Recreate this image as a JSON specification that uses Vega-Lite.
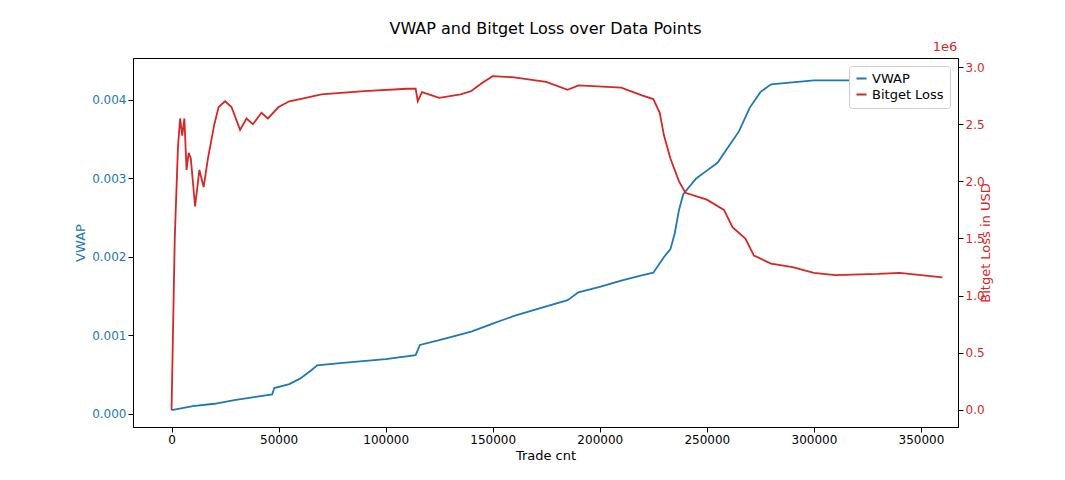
{
  "$schema": "https://vega.github.io/schema/vega-lite/v6.json",
  "width": 825,
  "height": 369,
  "autosize": {"type": "none"},
  "padding": {"left": 133, "top": 58, "right": 107, "bottom": 53},
  "background": "white",
  "title": {"text": "VWAP and Bitget Loss over Data Points", "fontSize": 16, "fontWeight": "normal", "font": "DejaVu Sans", "offset": 4},
  "datasets": {
    "vwap": [
      {"t": 0, "v": 0.00005}, {"t": 10000, "v": 0.0001}, {"t": 20000, "v": 0.00013}, {"t": 30000, "v": 0.00018},
      {"t": 40000, "v": 0.00022}, {"t": 47000, "v": 0.00025}, {"t": 48000, "v": 0.00033}, {"t": 55000, "v": 0.00038},
      {"t": 60000, "v": 0.00045}, {"t": 65000, "v": 0.00055}, {"t": 68000, "v": 0.00062}, {"t": 80000, "v": 0.00065},
      {"t": 100000, "v": 0.0007}, {"t": 114000, "v": 0.00075}, {"t": 116000, "v": 0.00088}, {"t": 125000, "v": 0.00094},
      {"t": 140000, "v": 0.00105}, {"t": 150000, "v": 0.00115}, {"t": 155000, "v": 0.0012}, {"t": 160000, "v": 0.00125},
      {"t": 175000, "v": 0.00137}, {"t": 185000, "v": 0.00145}, {"t": 190000, "v": 0.00155}, {"t": 200000, "v": 0.00162},
      {"t": 210000, "v": 0.0017}, {"t": 220000, "v": 0.00177}, {"t": 225000, "v": 0.0018}, {"t": 230000, "v": 0.002},
      {"t": 233000, "v": 0.0021}, {"t": 235000, "v": 0.0023}, {"t": 237000, "v": 0.0026}, {"t": 239000, "v": 0.0028},
      {"t": 245000, "v": 0.003}, {"t": 250000, "v": 0.0031}, {"t": 255000, "v": 0.0032}, {"t": 260000, "v": 0.0034},
      {"t": 265000, "v": 0.0036}, {"t": 270000, "v": 0.0039}, {"t": 275000, "v": 0.0041}, {"t": 280000, "v": 0.0042},
      {"t": 300000, "v": 0.00425}, {"t": 320000, "v": 0.00425}, {"t": 340000, "v": 0.0043}, {"t": 360000, "v": 0.0043}
    ],
    "loss": [
      {"t": 0, "l": 0}, {"t": 1500, "l": 1500000}, {"t": 3000, "l": 2300000}, {"t": 4000, "l": 2550000},
      {"t": 5000, "l": 2400000}, {"t": 6000, "l": 2550000}, {"t": 7000, "l": 2100000}, {"t": 8000, "l": 2250000},
      {"t": 9000, "l": 2200000}, {"t": 11000, "l": 1780000}, {"t": 13000, "l": 2100000}, {"t": 15000, "l": 1950000},
      {"t": 17000, "l": 2200000}, {"t": 20000, "l": 2500000}, {"t": 22000, "l": 2650000}, {"t": 25000, "l": 2700000},
      {"t": 28000, "l": 2650000}, {"t": 32000, "l": 2450000}, {"t": 35000, "l": 2550000}, {"t": 38000, "l": 2500000},
      {"t": 42000, "l": 2600000}, {"t": 45000, "l": 2550000}, {"t": 50000, "l": 2650000}, {"t": 55000, "l": 2700000},
      {"t": 60000, "l": 2720000}, {"t": 70000, "l": 2760000}, {"t": 90000, "l": 2790000}, {"t": 110000, "l": 2810000},
      {"t": 114000, "l": 2810000}, {"t": 115000, "l": 2700000}, {"t": 117000, "l": 2780000}, {"t": 125000, "l": 2730000},
      {"t": 135000, "l": 2760000}, {"t": 140000, "l": 2790000}, {"t": 145000, "l": 2860000}, {"t": 150000, "l": 2920000},
      {"t": 160000, "l": 2910000}, {"t": 175000, "l": 2870000}, {"t": 185000, "l": 2800000}, {"t": 190000, "l": 2840000},
      {"t": 210000, "l": 2820000}, {"t": 220000, "l": 2750000}, {"t": 225000, "l": 2720000}, {"t": 228000, "l": 2600000},
      {"t": 230000, "l": 2400000}, {"t": 233000, "l": 2200000}, {"t": 237000, "l": 2000000}, {"t": 240000, "l": 1900000},
      {"t": 250000, "l": 1840000}, {"t": 258000, "l": 1750000}, {"t": 262000, "l": 1600000}, {"t": 268000, "l": 1500000},
      {"t": 272000, "l": 1350000}, {"t": 280000, "l": 1280000}, {"t": 290000, "l": 1250000}, {"t": 300000, "l": 1200000},
      {"t": 310000, "l": 1180000}, {"t": 330000, "l": 1190000}, {"t": 340000, "l": 1200000}, {"t": 350000, "l": 1180000},
      {"t": 360000, "l": 1160000}
    ]
  },
  "layer": [
    {
      "data": {"name": "vwap"},
      "transform": [{"calculate": "'VWAP'", "as": "series"}],
      "mark": {"type": "line", "strokeWidth": 1.8},
      "encoding": {
        "x": {"field": "t", "type": "quantitative", "title": "Trade cnt", "scale": {"domain": [-18000, 367300], "nice": false, "zero": false},
          "axis": {"values": [0, 50000, 100000, 150000, 200000, 250000, 300000, 350000], "format": "d", "grid": false, "tickColor": "black", "labelColor": "black"}},
        "y": {"field": "v", "type": "quantitative", "title": "VWAP", "scale": {"domain": [-0.000166, 0.004535], "nice": false, "zero": false},
          "axis": {"values": [0, 0.001, 0.002, 0.003, 0.004], "format": ".3f", "grid": false, "labelColor": "#1f77b4", "titleColor": "#1f77b4", "tickColor": "black"}},
        "color": {"field": "series", "type": "nominal", "scale": {"domain": ["VWAP", "Bitget Loss"], "range": ["#1f77b4", "#d62728"]},
          "legend": {"title": null, "orient": "top-right", "offset": 8, "symbolType": "stroke", "symbolStrokeWidth": 2, "labelFontSize": 13, "strokeColor": "#cccccc", "fillColor": "white", "padding": 6, "cornerRadius": 3}}
      }
    },
    {
      "resolve": {"scale": {"y": "shared"}},
      "layer": [
        {
          "data": {"name": "loss"},
          "transform": [{"calculate": "'Bitget Loss'", "as": "series"}],
          "mark": {"type": "line", "strokeWidth": 1.8},
          "encoding": {
            "x": {"field": "t", "type": "quantitative"},
            "y": {"field": "l", "type": "quantitative", "title": "Bitget Loss in USD", "scale": {"domain": [-149000, 3079000], "nice": false, "zero": false},
              "axis": {"orient": "right", "titleAngle": 270, "titlePadding": 8, "values": [0, 500000, 1000000, 1500000, 2000000, 2500000, 3000000], "labelExpr": "format(datum.value / 1e6, '.1f')", "grid": false, "labelColor": "#d62728", "titleColor": "#d62728", "tickColor": "black"}},
            "color": {"field": "series", "type": "nominal"}
          }
        },
        {
          "data": {"values": [{"label": "1e6"}]},
          "mark": {"type": "text", "clip": false, "color": "#d62728", "fontSize": 13, "font": "DejaVu Sans", "align": "left", "baseline": "bottom", "dy": -4},
          "encoding": {
            "x": {"datum": 355500},
            "y": {"datum": 3079000},
            "text": {"field": "label"}
          }
        }
      ]
    }
  ],
  "resolve": {"scale": {"y": "independent"}},
  "config": {
    "font": "DejaVu Sans",
    "view": {"stroke": "black", "strokeWidth": 1},
    "axis": {"labelFontSize": 12, "titleFontSize": 13, "titleFontWeight": "normal", "domainColor": "black", "labelFont": "DejaVu Sans", "titleFont": "DejaVu Sans"},
    "legend": {"labelFont": "DejaVu Sans"}
  }
}
